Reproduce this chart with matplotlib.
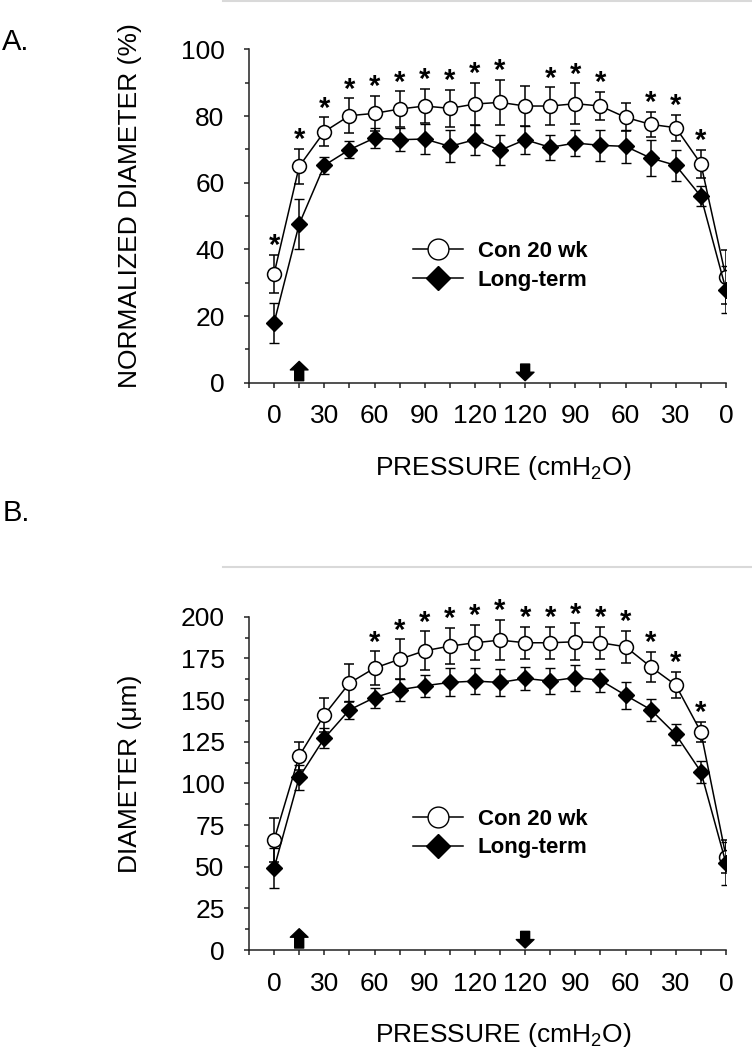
import matplotlib
matplotlib.use("Agg")
import matplotlib.pyplot as plt
from matplotlib.lines import Line2D
from matplotlib.ticker import MultipleLocator

plt.rcParams['font.family'] = ['Liberation Sans', 'DejaVu Sans']
plt.rcParams['mathtext.fontset'] = 'custom'
plt.rcParams['mathtext.rm'] = 'Liberation Sans'
plt.rcParams['mathtext.it'] = 'Liberation Sans:italic'

# pressure steps (cmH2O), up then down; only every other step is labelled
tick_labels = ['0', '', '30', '', '60', '', '90', '', '120', '', '120', '', '90', '', '60', '', '30', '', '0']
arrow_up_idx = 1
arrow_down_idx = 10

# A. normalized diameter (%)
norm_con = [32.7, 64.9, 75.3, 80.1, 80.8, 82.1, 83.0, 82.3, 83.6, 84.1, 83.0, 83.0, 83.7, 83.0, 79.6, 77.5, 76.5, 65.7, 31.6]
norm_con_err = [5.7, 5.3, 4.3, 5.2, 5.3, 5.3, 5.1, 5.5, 6.3, 6.7, 6.0, 5.6, 6.1, 4.3, 4.2, 3.8, 3.9, 4.2, 8.1]
norm_lt = [18.0, 47.6, 65.2, 69.9, 73.4, 72.9, 73.1, 70.9, 72.9, 69.7, 72.9, 70.6, 71.9, 71.2, 70.9, 67.4, 65.2, 55.9, 27.9]
norm_lt_err = [6.0, 7.5, 2.5, 2.6, 3.0, 3.5, 4.5, 4.8, 4.5, 4.5, 4.2, 3.7, 3.8, 4.6, 5.0, 5.5, 4.6, 3.0, 7.0]
norm_sig = [0, 1, 2, 3, 4, 5, 6, 7, 8, 9, 11, 12, 13, 15, 16, 17]

# B. diameter (um)
diam_con = [66.1, 116.5, 141.1, 160.2, 169.2, 174.5, 179.6, 182.4, 184.4, 186.0, 184.4, 184.4, 185.0, 184.4, 182.0, 170.0, 159.0, 130.9, 56.1]
diam_con_err = [13.0, 8.6, 10.0, 11.4, 10.0, 12.0, 11.6, 11.0, 10.6, 12.0, 9.6, 9.6, 11.0, 9.6, 9.6, 9.0, 8.0, 6.0, 10.0]
diam_lt = [49.1, 103.7, 127.1, 144.1, 151.5, 156.2, 158.6, 160.6, 161.4, 160.6, 163.0, 161.4, 163.5, 161.9, 152.9, 144.3, 129.4, 107.0, 52.1]
diam_lt_err = [12.0, 7.4, 6.0, 5.6, 6.0, 6.7, 6.5, 8.4, 8.0, 8.0, 7.0, 7.6, 7.8, 7.0, 8.0, 6.6, 6.5, 6.6, 13.0]
diam_sig = [4, 5, 6, 7, 8, 9, 10, 11, 12, 13, 14, 15, 16, 17]

FS = 19
ARROW = dict(arrowstyle='simple,head_length=0.36,head_width=0.75,tail_width=0.38',
             mutation_scale=17, color='black', shrinkA=0, shrinkB=0)


def panel(ax, con, con_err, lt, lt_err, sig, ymax, major, minor, ylabel):
    x = list(range(len(con)))
    ax.errorbar(x, con, yerr=con_err, color='black', lw=1.1, elinewidth=1.1, capsize=3.6,
                marker='o', ms=10, mfc='white', mec='black', mew=1.1, zorder=3)
    ax.errorbar(x, lt, yerr=lt_err, color='black', lw=1.1, elinewidth=1.1, capsize=3.6,
                marker='D', ms=8, mfc='black', mec='black', zorder=4)
    for i in sig:
        ax.annotate('*', (i, con[i] + con_err[i]), xytext=(0, 0.5), textcoords='offset points',
                    ha='center', va='baseline', fontsize=21, fontweight='bold')

    # pressure step arrows
    h = ymax / 100.0
    ax.annotate('', xy=(arrow_up_idx, 6.4 * h), xytext=(arrow_up_idx, 0.6 * h), arrowprops=ARROW)
    ax.annotate('', xy=(arrow_down_idx, 0.6 * h), xytext=(arrow_down_idx, 5.6 * h), arrowprops=ARROW)

    ax.set_xlim(-1, 18)
    ax.set_ylim(0, ymax)
    ax.set_xticks(range(-1, 19))
    ax.set_xticklabels([''] + tick_labels)
    ax.yaxis.set_major_locator(MultipleLocator(major))
    ax.yaxis.set_minor_locator(MultipleLocator(minor))
    for s in ['top', 'right']:
        ax.spines[s].set_visible(False)
    for s in ['left', 'bottom']:
        ax.spines[s].set_linewidth(1.1)
        ax.spines[s].set_color('#222222')
    ax.tick_params(axis='x', direction='out', length=3.6, width=1.1, pad=12, labelsize=FS, color='#222222')
    ax.tick_params(axis='y', which='major', direction='out', length=3.6, width=1.1, pad=14, labelsize=FS, color='#222222')
    ax.tick_params(axis='y', which='minor', direction='out', length=3.2, width=1.1, color='#222222')

    ax.set_ylabel(ylabel, fontsize=FS)
    ax.yaxis.set_label_coords(-0.225, 0.53)
    ax.set_xlabel('PRESSURE (cmH$_2$O)', fontsize=FS)
    ax.xaxis.set_label_coords(0.533, -0.256)
    ax.xaxis.label.set_va('center')

    handles = [Line2D([], [], color='black', lw=1.1, marker='o', ms=15, mfc='white', mec='black'),
               Line2D([], [], color='black', lw=1.1, marker='D', ms=12.5, mfc='black', mec='black')]
    ax.legend(handles, ['Con 20 wk', 'Long-term'], loc='center left', bbox_to_anchor=(0.344, 0.35),
              frameon=False, borderpad=0, borderaxespad=0, handlelength=2.25, handletextpad=0.65,
              labelspacing=0.35, prop={'size': 16, 'weight': 'bold'})


fig = plt.figure(figsize=(7.52, 10.5), dpi=100)
axA = fig.add_axes([0.3311, 0.6355, 0.6343, 0.3175])
axB = fig.add_axes([0.3311, 0.0952, 0.6343, 0.3174])

panel(axA, norm_con, norm_con_err, norm_lt, norm_lt_err, norm_sig, 100, 20, 10,
      'NORMALIZED DIAMETER (%)')
panel(axB, diam_con, diam_con_err, diam_lt, diam_lt_err, diam_sig, 200, 25, 12.5,
      'DIAMETER (\u03bcm)')

# thin gray separators above each panel
fig.add_artist(Line2D([223 / 752, 1.0], [1 - 1 / 1050, 1 - 1 / 1050], color='#d9d9d9', lw=1.5))
fig.add_artist(Line2D([223 / 752, 1.0], [1 - 567 / 1050, 1 - 567 / 1050], color='#d9d9d9', lw=1.5))

fig.text(0.003, 1 - 42 / 1050, 'A.', fontsize=21, va='center', ha='left')
fig.text(0.003, 1 - 513 / 1050, 'B.', fontsize=21, va='center', ha='left')

fig.savefig('out.png', dpi=100)
